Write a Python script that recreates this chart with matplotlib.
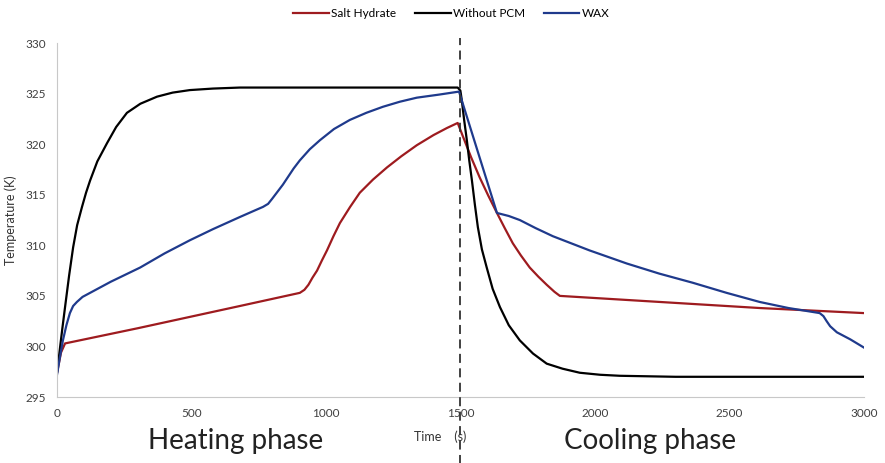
import matplotlib.pyplot as plt

plt.rcParams['font.family'] = ['Lato', 'DejaVu Sans']

# valores (tiempo en s, temperatura en K)
t_salt = [0, 15, 30, 300, 680, 903, 920, 935, 950, 967, 985, 1004, 1028, 1052, 1090, 1126, 1175,
          1227, 1280, 1338, 1400, 1450, 1490,
          1509, 1540, 1572, 1604, 1636, 1665, 1695, 1725, 1758, 1790, 1821, 1850, 1870, 2613, 3000]
T_salt = [297.4, 299.4, 300.3, 301.8, 304.0, 305.3, 305.6, 306.1, 306.8, 307.5, 308.5, 309.5, 310.9, 312.2, 313.8, 315.2, 316.5,
          317.7, 318.8, 319.9, 320.9, 321.6, 322.1,
          320.8, 318.7, 316.7, 314.9, 313.2, 311.7, 310.2, 309.0, 307.8, 306.9, 306.1, 305.4, 305.0, 303.8, 303.3]

t_nopcm = [0, 10, 20, 30, 45, 60, 75, 93, 108, 123, 150, 186, 220, 260, 310, 372, 430, 494, 580, 680, 1000, 1490,
           1500, 1505, 1514, 1524, 1533, 1543, 1554, 1565, 1580, 1598, 1620, 1647, 1680, 1721, 1770, 1821,
           1880, 1944, 2020, 2093, 2300, 3000]
T_nopcm = [297.4, 299.6, 301.8, 303.9, 307.0, 309.8, 312.0, 313.8, 315.2, 316.4, 318.3, 320.1, 321.7, 323.1, 324.0, 324.7,
           325.1, 325.35, 325.5, 325.6, 325.6, 325.6,
           325.3, 324.4, 322.4, 320.4, 318.4, 316.4, 314.0, 311.8, 309.6, 307.8, 305.7, 303.9, 302.1, 300.6, 299.3, 298.3,
           297.8, 297.4, 297.2, 297.1, 297.0, 297.0]

t_wax = [0, 10, 22, 35, 48, 60, 74, 95, 123, 200, 309, 400, 494, 580, 680, 740, 766, 785, 800, 820, 840, 860, 880, 903,
         940, 978, 1030, 1089, 1150, 1212, 1275, 1338, 1420, 1495,
         1636, 1680, 1721, 1780, 1844, 1980, 2119, 2240, 2364, 2490, 2613, 2720, 2836, 2850, 2862, 2875, 2900, 2950, 3000]
T_wax = [297.2, 298.8, 300.6, 302.1, 303.3, 304.0, 304.4, 304.9, 305.3, 306.4, 307.8, 309.2, 310.5, 311.6, 312.8, 313.5,
         313.8, 314.1, 314.6, 315.3, 316.0, 316.8, 317.6, 318.4,
         319.5, 320.4, 321.5, 322.4, 323.1, 323.7, 324.2, 324.6, 324.9, 325.2,
         313.2, 312.9, 312.5, 311.7, 310.9, 309.5, 308.2, 307.2, 306.3, 305.3, 304.4, 303.8, 303.3, 303.0, 302.5, 302.0,
         301.4, 300.7, 299.9]

xticks = [0, 500, 1000, 1500, 2000, 2500, 3000]
yticks = [295, 300, 305, 310, 315, 320, 325, 330]

fig = plt.figure(figsize=(8.85, 4.63), dpi=100)
ax = fig.add_axes([0.0644, 0.1425, 0.9116, 0.7645])

ax.plot(t_salt, T_salt, color='#9e1b1f', lw=1.6, label='Salt Hydrate')
ax.plot(t_nopcm, T_nopcm, color='black', lw=1.6, label='Without PCM')
ax.plot(t_wax, T_wax, color='#1f3a8c', lw=1.6, label='WAX')

# linea de separacion entre calentamiento y enfriamiento
ax.axvline(1500, ymin=-0.19, ymax=1.015, color='#333333', lw=1.3,
           linestyle=(0, (5, 3)), clip_on=False, zorder=5)

ax.set_xlim(0, 3000)
ax.set_ylim(295, 330)
ax.set_xticks(xticks)
ax.set_yticks(yticks)
ax.tick_params(length=0, labelsize=8.5, colors='#404040', pad=8)
for s in ['top', 'right']:
    ax.spines[s].set_visible(False)
for s in ['left', 'bottom']:
    ax.spines[s].set_color('#c8c8c8')

ax.set_ylabel('Temperature (K)', fontsize=9, color='#333333', labelpad=6)
fig.text(0.497, 0.056, 'Time    (s)', ha='center', va='center', fontsize=9, color='#333333')

fig.text(0.266, 0.047, 'Heating phase', ha='center', va='center', fontsize=20, color='#222222')
fig.text(0.735, 0.047, 'Cooling phase', ha='center', va='center', fontsize=20, color='#222222')

fig.legend(loc='upper center', bbox_to_anchor=(0.51, 1.005), ncol=3, frameon=False,
           fontsize=8.5, handlelength=3, handletextpad=0.2, columnspacing=1.6)

fig.savefig('out.png', dpi=100)
